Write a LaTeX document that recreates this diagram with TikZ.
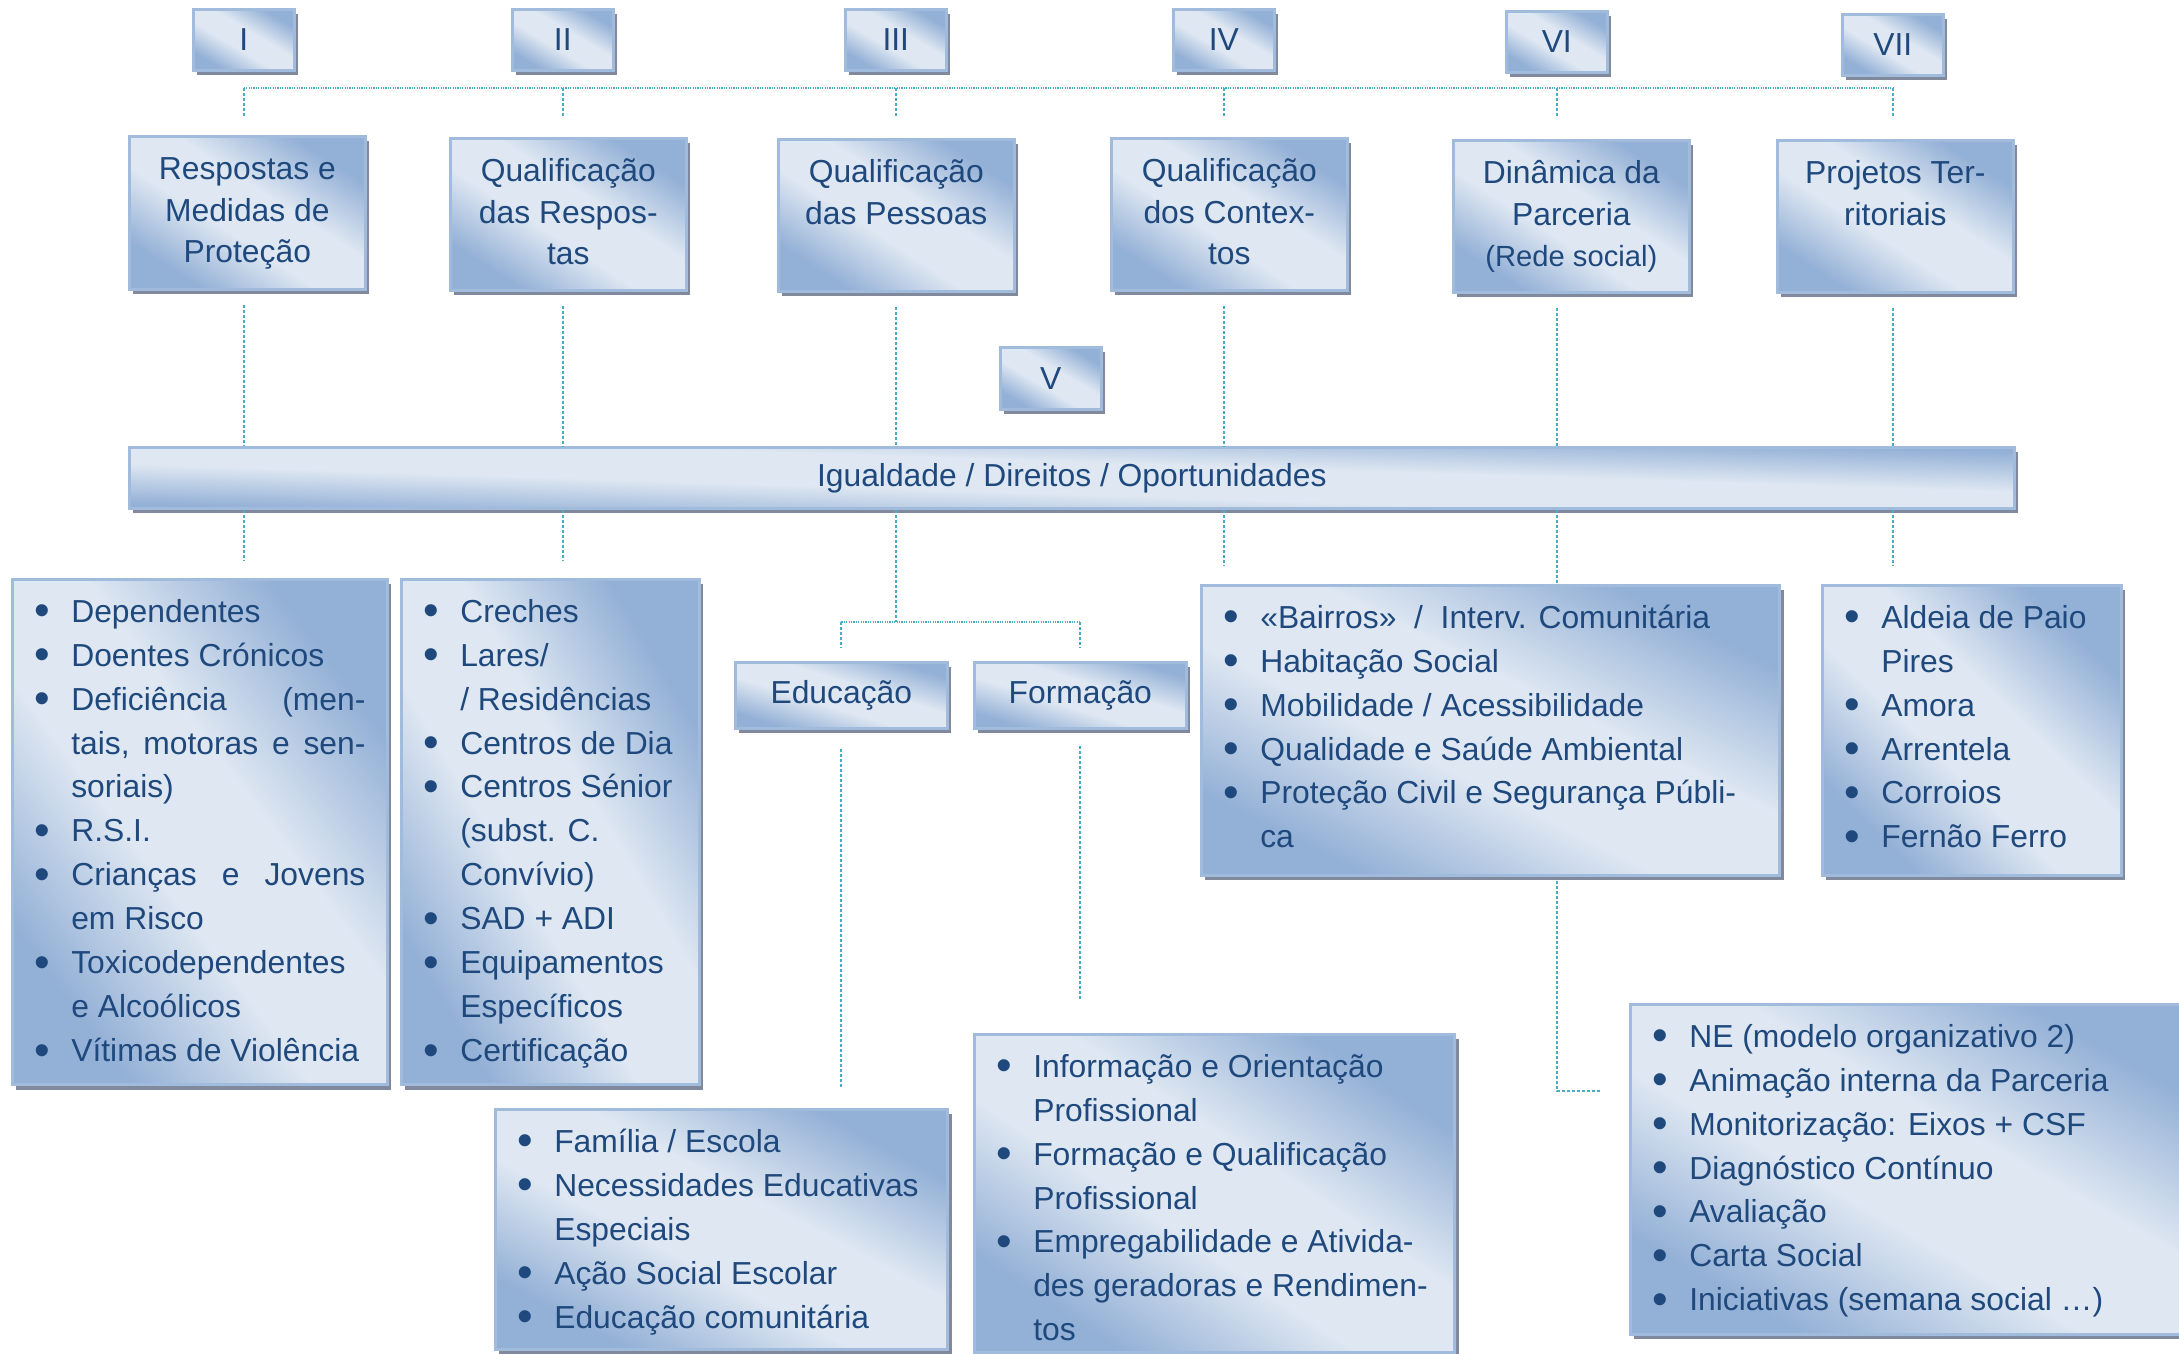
\documentclass[tikz,border=0pt]{standalone}
\usepackage{fontspec}
\setmainfont{Liberation Sans}
\usetikzlibrary{shadows}

\definecolor{txtblue}{RGB}{31,73,125}
\definecolor{boxdark}{RGB}{147,176,214}
\definecolor{boxlight}{RGB}{222,231,242}
\definecolor{boxedge}{RGB}{160,187,220}
\definecolor{shadowgray}{RGB}{128,138,156}
\definecolor{linkblue}{RGB}{75,172,198}

% light band along the diagonal, dark corners
\pgfdeclareverticalshading{panelfill}{100bp}{color(0bp)=(boxdark); color(26bp)=(boxdark);
	color(43bp)=(boxlight); color(57bp)=(boxlight); color(74bp)=(boxdark); color(100bp)=(boxdark)}

\newcommand{\boxfont}{\fontsize{9.05pt}{12.49pt}\selectfont}
\newcommand{\bul}{\makebox[0.35cm][l]{\hspace{-0.02cm}\raisebox{-0.035cm}{\scalebox{1.4}{\textbullet}}}}
\newcommand{\ind}{\hspace*{0.35cm}}
% top aligned contents: width, height, lines
\newcommand{\plist}[3]{\parbox[t][#2][t]{#1}{\boxfont\raggedright
	\leftskip=0.24cm\rightskip=0.22cm plus 1fil\relax\rule{0pt}{0.43cm}#3}}
\newcommand{\ptitle}[3]{\parbox[t][#2][t]{#1}{\fontsize{9.05pt}{11.86pt}\selectfont
	\centering\rule{0pt}{0.43cm}#3}}

\begin{document}
\begin{tikzpicture}[x=0.01cm, y=-0.01cm,
		% the angle follows the box diagonal: -atan(h/w)
		panel/.style={draw=boxedge, line width=0.025cm, shading=panelfill, shading angle=#1,
			general shadow={fill=shadowgray, shadow xshift=0.04cm, shadow yshift=-0.05cm},
			anchor=north west, inner sep=0pt, text=txtblue, font=\boxfont},
		panel/.default=-45,
		numbox/.style={panel=-31, minimum width=1.01cm, minimum height=0.61cm},
		link/.style={draw=linkblue, line width=0.02cm, dash pattern=on 0.03cm off 0.02cm},
		bus/.style={link, dash pattern=on 0.012cm off 0.012cm}]
	\useasboundingbox (0, 0) rectangle (2179, 1353);

	\node [numbox] (I) at (192, 8) {I};
	\node [numbox] (II) at (511, 8) {II};
	\node [numbox] (III) at (844, 8) {III};
	\node [numbox] (IV) at (1172, 8) {IV};
	\node [numbox] (VI) at (1505, 10) {VI};
	\node [numbox] (VII) at (1841, 13) {VII};
	\node [numbox, minimum height=0.62cm] (V) at (999, 346) {V};

	\node [panel=-33] (c1) at (128, 135) {\ptitle{2.36cm}{1.53cm}{Respostas e\\Medidas de\\Proteção}};
	\node [panel=-33] (c2) at (449, 137) {\ptitle{2.36cm}{1.52cm}{Qualificação\\das Respos-\\tas}};
	\node [panel=-33] (c3) at (777, 138) {\ptitle{2.36cm}{1.52cm}{Qualificação\\das Pessoas}};
	\node [panel=-33] (c4) at (1110, 137) {\ptitle{2.36cm}{1.52cm}{Qualificação\\dos Contex-\\tos}};
	\node [panel=-33] (c5) at (1452, 139) {\ptitle{2.36cm}{1.52cm}{Dinâmica da\\Parceria\\
		{\fontsize{8.3pt}{11.86pt}\selectfont (Rede social)}}};
	\node [panel=-33] (c6) at (1776, 139) {\ptitle{2.36cm}{1.52cm}{Projetos Ter-\\ritoriais}};

	\node [panel=-1.85, minimum width=18.84cm, minimum height=0.61cm] (band) at (128, 446)
		{Igualdade / Direitos / Oportunidades};

	\node [panel=-53.4] (dep) at (11, 578) {\plist{3.75cm}{5.05cm}{%
		\bul Dependentes\\
		\bul Doentes Crónicos\\
		\bul Deficiência\hfill(men-\\
		\ind tais,\hfill motoras\hfill e\hfill sen-\\
		\ind soriais)\\
		\bul R.S.I.\\
		\bul Crianças\hfill e\hfill Jovens\\
		\ind em Risco\\
		\bul Toxicodependentes\\
		\ind e Alcoólicos\\
		\bul Vítimas de Violência}};
	\node [panel=-59.5] (eq) at (400, 578) {\plist{2.98cm}{5.05cm}{%
		\bul Creches\\
		\bul Lares/\\
		\ind / Residências\\
		\bul Centros de Dia\\
		\bul Centros Sénior\\
		\ind (subst. C.\\
		\ind Convívio)\\
		\bul SAD + ADI\\
		\bul Equipamentos\\
		\ind Específicos\\
		\bul Certificação}};
	\node [panel=-17.3, minimum width=2.12cm, minimum height=0.66cm] (edu) at (734, 661) {Educação};
	\node [panel=-17.3, minimum width=2.12cm, minimum height=0.66cm] (form) at (973, 661) {Formação};
	\node [panel=-26.6] (ctx) at (1200, 584) {\plist{5.78cm}{2.9cm}{%
		\bul «Bairros»~~/~~Interv. Comunitária\\
		\bul Habitação Social\\
		\bul Mobilidade / Acessibilidade\\
		\bul Qualidade e Saúde Ambiental\\
		\bul Proteção Civil e Segurança Públi-\\
		\ind ca}};
	\node [panel=-44.1] (terr) at (1821, 584) {\plist{2.99cm}{2.9cm}{%
		\bul Aldeia de Paio\\
		\ind Pires\\
		\bul Amora\\
		\bul Arrentela\\
		\bul Corroios\\
		\bul Fernão Ferro}};
	\node [panel=-28] (esc) at (494, 1108) {\plist{4.52cm}{2.4cm}{%
		\bul Família / Escola\\
		\bul \mbox{Necessidades Educativas}\\
		\ind Especiais\\
		\bul Ação Social Escolar\\
		\bul Educação comunitária}};
	\node [panel=-33.5] (emp) at (973, 1033) {\plist{4.8cm}{3.18cm}{%
		\bul Informação e Orientação\\
		\ind Profissional\\
		\bul Formação e Qualificação\\
		\ind Profissional\\
		\bul Empregabilidade e Ativida-\\
		\ind des geradoras e Rendimen-\\
		\ind tos}};
	\node [panel=-30] (parc) at (1629, 1003) {\plist{5.7cm}{3.3cm}{%
		\bul NE (modelo organizativo 2)\\
		\bul Animação interna da Parceria\\
		\bul Monitorização: Eixos + CSF\\
		\bul Diagnóstico Contínuo\\
		\bul Avaliação\\
		\bul Carta Social\\
		\bul Iniciativas (semana social …)}};

	% axes bus
	\coordinate (top) at (0, 88);
	\draw [bus] (I |- top) -- (VII |- top);
	\foreach \n in {I, II, III, IV, VI, VII}
		\draw [link] (\n |- top) -- ++(0, 30);

	% down to the band and on to the lists
	\foreach \n/\c in {I/c1, II/c2, III/c3, IV/c4, VI/c5, VII/c6}
		\draw [link, shorten <=0.14cm] (\n |- \c.south) -- (\n |- band.north);
	\foreach \n/\b in {I/dep, II/eq, IV/ctx, VII/terr}
		\draw [link, shorten >=0.18cm] (\n |- band.south) -- (\n |- \b.north);
	\draw [link] (VI |- band.south) -- (VI |- ctx.north);

	\coordinate (fork) at (III |- 0, 622);
	\draw [link] (III |- band.south) -- (fork);
	\draw [bus] (edu.north |- fork) -- (form.north |- fork);
	\draw [link, shorten >=0.13cm] (edu.north |- fork) -- (edu.north);
	\draw [link, shorten >=0.13cm] (form.north |- fork) -- (form.north);
	\draw [link, shorten <=0.19cm, shorten >=0.21cm] (edu.south) -- (edu.south |- esc.north);
	\draw [link, shorten <=0.16cm, shorten >=0.33cm] (form.south) -- (form.south |- emp.north);

	\coordinate (ne) at (1600, 1091);
	\draw [link, shorten <=0.04cm] (VI |- ctx.south) |- (ne);
\end{tikzpicture}
\end{document}
